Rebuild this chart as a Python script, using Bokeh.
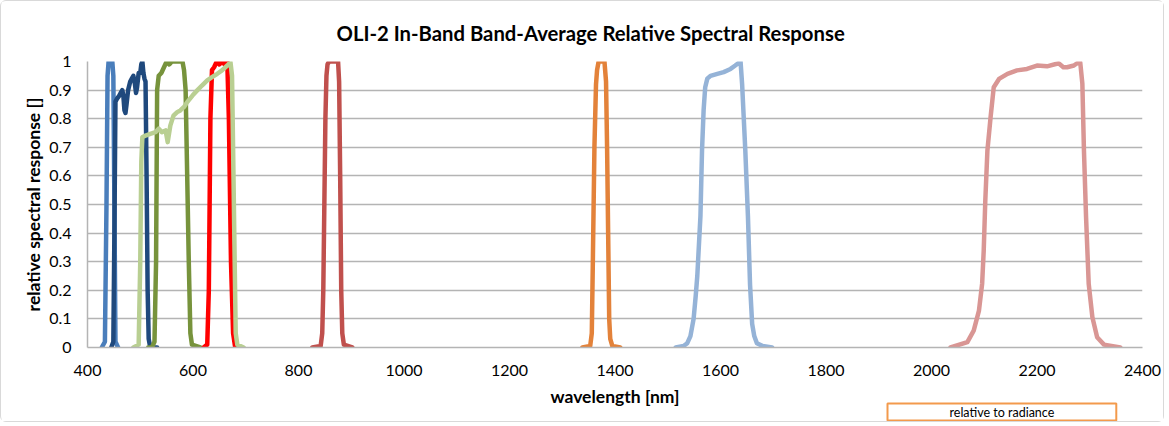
from bokeh.plotting import figure
from bokeh.models import Range1d, FixedTicker, Title, InlineStyleSheet
from bokeh.embed import file_html
from bokeh.resources import INLINE

# ---- data ----
coastal_x = [427, 433, 436, 438, 440, 447, 449, 451, 453, 458]
coastal_y = [0.0, 0.02, 0.5, 0.95, 1.0, 1.0, 0.95, 0.5, 0.02, 0.0]

blue_x = [445, 449, 451, 453, 456, 460, 463, 466, 468, 470, 472, 474, 477, 481, 484, 487, 490, 492, 494, 497, 500, 502, 504, 506, 508, 510, 512, 514, 516, 519, 532]
blue_y = [0.0, 0.02, 0.4, 0.86, 0.87, 0.88, 0.89, 0.90, 0.88, 0.83, 0.82, 0.85, 0.90, 0.93, 0.94, 0.95, 0.92, 0.89, 0.91, 0.96, 0.96, 0.99, 1.0, 0.96, 0.94, 0.93, 0.6, 0.2, 0.03, 0.0, 0.0]

green_x = [515, 522, 527, 530, 532, 535, 540, 545, 550, 555, 560, 570, 580, 583, 586, 589, 592, 595, 598, 614]
green_y = [0.0, 0.0, 0.02, 0.3, 0.9, 0.95, 0.96, 0.98, 1.0, 0.99, 1.0, 1.0, 1.0, 0.97, 0.9, 0.6, 0.3, 0.05, 0.01, 0.0]

red_x = [620, 627, 630, 633, 636, 640, 645, 650, 655, 660, 665, 668, 672, 676, 680, 683]
red_y = [0.0, 0.01, 0.2, 0.8, 0.97, 0.98, 1.0, 0.99, 1.0, 0.99, 1.0, 0.8, 0.3, 0.05, 0.0, 0.0]

pan_x = [487, 497, 500, 502, 504, 510, 519, 529, 535, 541, 548, 552, 557, 563, 570, 576, 583, 589, 599, 608, 617, 627, 636, 646, 655, 665, 671, 674, 676, 679, 681, 684, 696]
pan_y = [0.0, 0.01, 0.3, 0.65, 0.735, 0.741, 0.747, 0.753, 0.765, 0.753, 0.759, 0.718, 0.776, 0.811, 0.823, 0.829, 0.841, 0.858, 0.881, 0.899, 0.916, 0.934, 0.945, 0.957, 0.969, 0.986, 0.998, 0.95, 0.7, 0.3, 0.05, 0.01, 0.0]

nir_x = [826, 842, 845, 847, 849, 851, 853, 855, 858, 866, 875, 877, 879, 881, 883, 886, 902]
nir_y = [0.0, 0.005, 0.05, 0.2, 0.5, 0.8, 0.95, 0.99, 1.0, 1.0, 1.0, 0.93, 0.6, 0.2, 0.05, 0.01, 0.0]

cirrus_x = [1338, 1353, 1356, 1358, 1361, 1364, 1366, 1369, 1380, 1383, 1385, 1387, 1389, 1391, 1395, 1410]
cirrus_y = [0.0, 0.005, 0.05, 0.3, 0.7, 0.92, 0.97, 1.0, 1.0, 0.93, 0.7, 0.4, 0.1, 0.03, 0.005, 0.0]

swir1_x = [1515, 1530, 1537, 1543, 1549, 1553, 1556, 1562, 1565, 1568, 1571, 1575, 1581, 1594, 1606, 1619, 1628, 1638, 1641, 1647, 1652, 1656, 1660, 1664, 1669, 1680, 1698]
swir1_y = [0.0, 0.005, 0.015, 0.04, 0.1, 0.18, 0.25, 0.46, 0.69, 0.83, 0.91, 0.94, 0.95, 0.957, 0.963, 0.974, 0.986, 1.0, 0.92, 0.69, 0.46, 0.22, 0.083, 0.04, 0.015, 0.005, 0.0]

swir2_x = [2036, 2068, 2080, 2090, 2096, 2099, 2102, 2106, 2112, 2118, 2128, 2144, 2162, 2181, 2200, 2219, 2241, 2250, 2257, 2270, 2276, 2282, 2286, 2289, 2293, 2298, 2305, 2314, 2327, 2358]
swir2_y = [0.0, 0.019, 0.059, 0.129, 0.223, 0.339, 0.514, 0.689, 0.805, 0.91, 0.939, 0.957, 0.969, 0.974, 0.986, 0.983, 0.994, 0.98, 0.98, 0.986, 0.994, 0.996, 0.922, 0.689, 0.456, 0.223, 0.106, 0.036, 0.01, 0.0]

series = [
    ("coastal", coastal_x, coastal_y, "#4a7ebb"),
    ("blue", blue_x, blue_y, "#1f497d"),
    ("green", green_x, green_y, "#77933c"),
    ("red", red_x, red_y, "#ff0000"),
    ("nir", nir_x, nir_y, "#c0504d"),
    ("swir1", swir1_x, swir1_y, "#95b3d7"),
    ("swir2", swir2_x, swir2_y, "#d99694"),
    ("pan", pan_x, pan_y, "#b9cf92"),
    ("cirrus", cirrus_x, cirrus_y, "#e3823a"),
]

x_ticks = [400, 600, 800, 1000, 1200, 1400, 1600, 1800, 2000, 2200, 2400]
y_ticks = [0, 0.1, 0.2, 0.3, 0.4, 0.5, 0.6, 0.7, 0.8, 0.9, 1]
y_tick_labels = {0: "0", 0.1: "0.1", 0.2: "0.2", 0.3: "0.3", 0.4: "0.4", 0.5: "0.5",
                 0.6: "0.6", 0.7: "0.7", 0.8: "0.8", 0.9: "0.9", 1: "1"}

FONT = "Lato"

p = figure(width=1164, height=422, output_backend="svg", toolbar_location=None,
           x_range=Range1d(400, 2400), y_range=Range1d(0, 1),
           min_border_left=86, min_border_right=23, min_border_top=60, min_border_bottom=76)
p.stylesheets = [InlineStyleSheet(css=":host{border:1px solid #d9d9d9;border-radius:6px;box-sizing:border-box;}")]

p.title.text = "OLI-2 In-Band Band-Average Relative Spectral Response"
p.title.align = "left"
p.title.offset = 249
p.title.standoff = 33
p.title.text_font = FONT
p.title.text_font_size = "20.3px"
p.title.text_font_style = "bold"
p.title.text_color = "#000000"

p.outline_line_color = None
p.xgrid.grid_line_color = None
p.ygrid.grid_line_color = "#b4b4b4"
p.ygrid.grid_line_width = 1.5

for ax in (p.xaxis[0], p.yaxis[0]):
    ax.axis_line_color = "#b4b4b4"
    ax.axis_line_width = 1.5
    ax.major_tick_line_color = None
    ax.minor_tick_line_color = None
    ax.major_label_text_font = FONT
    ax.major_label_text_font_size = "16px"
    ax.major_label_text_color = "#000000"
    ax.axis_label_text_font = FONT
    ax.axis_label_text_font_style = "bold"
    ax.axis_label_text_color = "#000000"
    ax.axis_label_text_font_size = "17.5px"

p.xaxis.ticker = FixedTicker(ticks=x_ticks)
p.yaxis.ticker = FixedTicker(ticks=y_ticks)
p.yaxis.major_label_overrides = y_tick_labels
p.xaxis.axis_label = "wavelength [nm]"
p.yaxis.axis_label = "relative spectral response []"
p.xaxis.major_label_standoff = 11
p.xaxis.axis_label_standoff = 7
p.yaxis.major_label_standoff = 10
p.yaxis.axis_label_standoff = 2

for name, xs, ys, col in series:
    p.line(xs, ys, line_color=col, line_width=4.5, line_join="round", line_cap="round")

note = Title(text="relative to radiance", align="left", offset=800, standoff=-16,
             text_font=FONT, text_font_size="12.5px", text_font_style="normal", text_color="#000000",
             border_line_color="#f39a4c", border_line_width=2, background_fill_color="white",
             padding=(62, 1))
p.add_layout(note, "below")

open("out.html", "w").write(file_html(p, INLINE))
